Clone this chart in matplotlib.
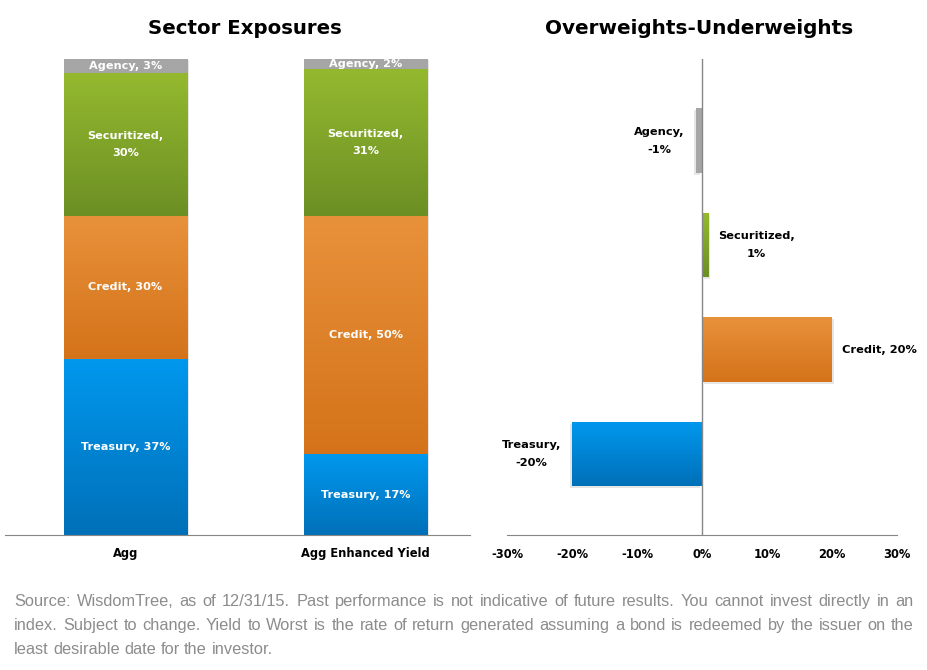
import numpy as np
import matplotlib
matplotlib.use("Agg")
from matplotlib import pyplot
from matplotlib.colors import LinearSegmentedColormap

# data
sectors = ['Treasury', 'Credit', 'Securitized', 'Agency']
funds = ['Agg', 'Agg Enhanced Yield']
agg = [37, 30, 30, 3]
agg_enhanced = [17, 50, 31, 2]
over_under = [-20, 20, 1, -1]
diff_ticks = [-30, -20, -10, 0, 10, 20, 30]

# top / bottom colours of each sector gradient
colours = {
    'Treasury': ('#0098ee', '#0070b8'),
    'Credit': ('#e8913b', '#d4731a'),
    'Securitized': ('#94b92f', '#6c8f24'),
    'Agency': ('#a6a6a6', '#a6a6a6'),
}

footnote = [
    "Source: WisdomTree, as of 12/31/15. Past performance is not indicative of future results. You cannot invest directly in an",
    "index. Subject to change. Yield to Worst is the rate of return generated assuming a bond is redeemed by the issuer on the",
    "least desirable date for the investor.",
]

W, H = 927, 670
BOLD = ['DejaVu Sans']
AXIS_GREY = '#868686'
SHADOW = '#e6e6e6'

figure = pyplot.figure(figsize=(W / 100, H / 100), dpi=100)


def px(x0, y0, x1, y1):
    # pixel box (top-left origin) -> figure fraction rect
    return [x0 / W, 1 - y1 / H, (x1 - x0) / W, (y1 - y0) / H]


def gradient_fill(ax, patch, sector):
    top, bottom = colours[sector]
    cmap = LinearSegmentedColormap.from_list(sector, [bottom, top])
    x0, y0 = patch.get_x(), patch.get_y()
    w, h = patch.get_width(), patch.get_height()
    grad = np.linspace(0, 1, 128).reshape(-1, 1)
    im = ax.imshow(grad, extent=[x0, x0 + w, y0, y0 + h], origin='lower',
                   cmap=cmap, aspect='auto', zorder=2, interpolation='bicubic')
    im.set_clip_path(patch)
    patch.set_facecolor('none')
    patch.set_edgecolor('none')


# ---- left: stacked exposures
ax1 = figure.add_axes(px(5, 59, 470, 535))
positions = np.arange(len(funds))
bar_w = 0.513
bottoms = np.zeros(len(funds))
for k, sector in enumerate(sectors):
    vals = np.array([agg[k], agg_enhanced[k]])
    bars = ax1.bar(positions, vals, bar_w, bottom=bottoms, zorder=2)
    for bar, v, b, pos in zip(bars, vals, bottoms, positions):
        # soft shadow
        ax1.bar(pos + 0.008, v, bar_w, bottom=b - 0.3, color=SHADOW, zorder=1)
        gradient_fill(ax1, bar, sector)
        sep = ',\n' if sector == 'Securitized' else ', '
        ax1.text(pos, b + v / 2, f'{sector}{sep}{v}%', ha='center', va='center',
                 color='white', fontsize=8.1, fontweight='bold', family=BOLD,
                 linespacing=1.9, zorder=3)
    bottoms = bottoms + vals

ax1.set_xlim(-0.502, 1.435)
ax1.set_ylim(0, 100)
ax1.set_xticks(positions)
ax1.set_xticklabels(funds, fontsize=8.3, fontweight='bold', family=BOLD)
ax1.tick_params(axis='x', length=0, pad=9)
ax1.set_yticks([])
for side in ['left', 'right', 'top']:
    ax1.spines[side].set_visible(False)
ax1.spines['bottom'].set_color(AXIS_GREY)
ax1.spines['bottom'].set_zorder(4)

# ---- right: over / underweights
ax2 = figure.add_axes(px(507, 59, 897, 535))
ypos = np.arange(len(sectors))
hbars = ax2.barh(ypos, over_under, 0.62, zorder=2)
for bar, sector, v, y in zip(hbars, sectors, over_under, ypos):
    ax2.barh(y - 0.02, v, 0.62, left=0.25 if v > 0 else -0.25, color=SHADOW, zorder=1)
    gradient_fill(ax2, bar, sector)
    sep = ', ' if sector == 'Credit' else ',\n'
    off = 7 if v > 0 else -8
    ax2.annotate(f'{sector}{sep}{v}%', (v, y), xytext=(off, 0),
                 textcoords='offset points', ha='left' if v > 0 else 'right',
                 va='center', multialignment='center', fontsize=8.2,
                 fontweight='bold', family=BOLD, linespacing=2.0)

ax2.axvline(0, color=AXIS_GREY, lw=1, zorder=3)
ax2.set_xlim(-30, 30)
ax2.set_ylim(-0.775, 3.78)
ax2.set_xticks(diff_ticks)
ax2.set_xticklabels([f'{t}%' for t in diff_ticks], fontsize=8.3,
                    fontweight='bold', family=BOLD)
ax2.tick_params(axis='x', length=0, pad=9)
ax2.set_yticks([])
for side in ['left', 'right', 'top']:
    ax2.spines[side].set_visible(False)
ax2.spines['bottom'].set_color(AXIS_GREY)

figure.text(245 / W, 1 - 28 / H, 'Sector Exposures', ha='center', va='center',
            fontsize=14.2, fontweight='bold', family=BOLD)
figure.text(699 / W, 1 - 28 / H, 'Overweights-Underweights', ha='center',
            va='center', fontsize=14.4, fontweight='bold', family=BOLD)

# ---- justified footnote
renderer = figure.canvas.get_renderer()
note_kw = dict(color='#8c8c8c', family=['Liberation Sans Narrow', 'Liberation Sans'])
size = 12.5
while True:
    probe = figure.text(0, 0, footnote[0], fontsize=size, **note_kw)
    wdt = probe.get_window_extent(renderer).width
    probe.remove()
    if wdt < 880 or size < 8:
        break
    size -= 0.25

x_left, x_right = 14, 914
for i, line in enumerate(footnote):
    base = 606 + 24 * i
    words = line.split()
    items = [figure.text(0, 1 - base / H, w, fontsize=size, va='baseline', **note_kw)
             for w in words]
    widths = [t.get_window_extent(renderer).width for t in items]
    if i < len(footnote) - 1:
        gap = (x_right - x_left - sum(widths)) / (len(words) - 1)
    else:
        space = figure.text(0, 0, 'a a', fontsize=size, **note_kw)
        gap = space.get_window_extent(renderer).width
        space.remove()
        aa = figure.text(0, 0, 'aa', fontsize=size, **note_kw)
        gap -= aa.get_window_extent(renderer).width
        aa.remove()
    x = x_left
    for t, w in zip(items, widths):
        t.set_x(x / W)
        x += w + gap

figure.savefig('out.png', dpi=100)
